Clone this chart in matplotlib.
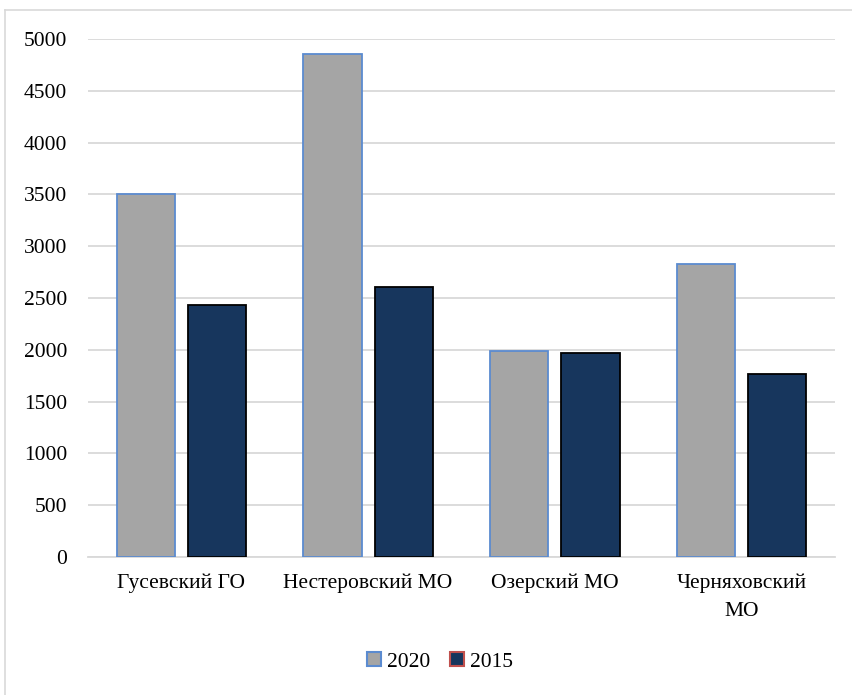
import numpy as np
import matplotlib.pyplot as plt
from matplotlib.patches import Patch
from matplotlib.lines import Line2D

# Data
categories = ['Гусевский ГО', 'Нестеровский МО', 'Озерский МО', 'Черняховский\nМО']
values_2020 = [3500, 4855, 1990, 2828]
values_2015 = [2432, 2606, 1965, 1770]

plt.rcParams['font.family'] = ['Liberation Serif', 'DejaVu Serif']
plt.rcParams['font.size'] = 15.5

fig = plt.figure(figsize=(8.53, 6.95), dpi=100)

# light outer frame (left and top edges visible)
fig.add_artist(Line2D([5 / 853, 5 / 853], [0, 1 - 10 / 695], color='#D9D9D9', lw=1.2))
fig.add_artist(Line2D([5 / 853, 1], [1 - 10 / 695, 1 - 10 / 695], color='#D9D9D9', lw=1.2))

ax = fig.add_axes([88 / 853, 1 - 557 / 695, (835 - 88) / 853, (557 - 39) / 695])

x = np.arange(len(categories))
w = 0.312
off = 0.191
ax.bar(x - off, values_2020, w, color='#A5A5A5', edgecolor='#5B8BD0', linewidth=1.3, zorder=3)
ax.bar(x + off, values_2015, w, color='#17365D', edgecolor='black', linewidth=1.3, zorder=3)

ax.set_xlim(-0.5, len(categories) - 0.5)
ax.set_ylim(0, 5000)
ax.set_yticks(np.arange(0, 5001, 500))
ax.set_xticks(x)
ax.set_xticklabels(categories, linespacing=1.6)
ax.tick_params(length=0)
ax.tick_params(axis='y', pad=15)
ax.tick_params(axis='x', pad=12)
ax.yaxis.grid(True, color='#D9D9D9', linewidth=1.3, zorder=0)
ax.set_axisbelow(True)
for s in ['top', 'right', 'left']:
    ax.spines[s].set_visible(False)
ax.spines['bottom'].set_color('#D9D9D9')
ax.spines['bottom'].set_linewidth(1.3)

handles = [Patch(facecolor='#A5A5A5', edgecolor='#5B8BD0', linewidth=1.5, label='2020'),
           Patch(facecolor='#17365D', edgecolor='#C0504D', linewidth=1.5, label='2015')]
fig.legend(handles=handles, loc='center', bbox_to_anchor=(440 / 853, 1 - 662 / 695), ncol=2,
           frameon=False, handlelength=0.65, handleheight=0.65, handletextpad=0.3, columnspacing=0.9)

fig.savefig('out.png', dpi=100)
